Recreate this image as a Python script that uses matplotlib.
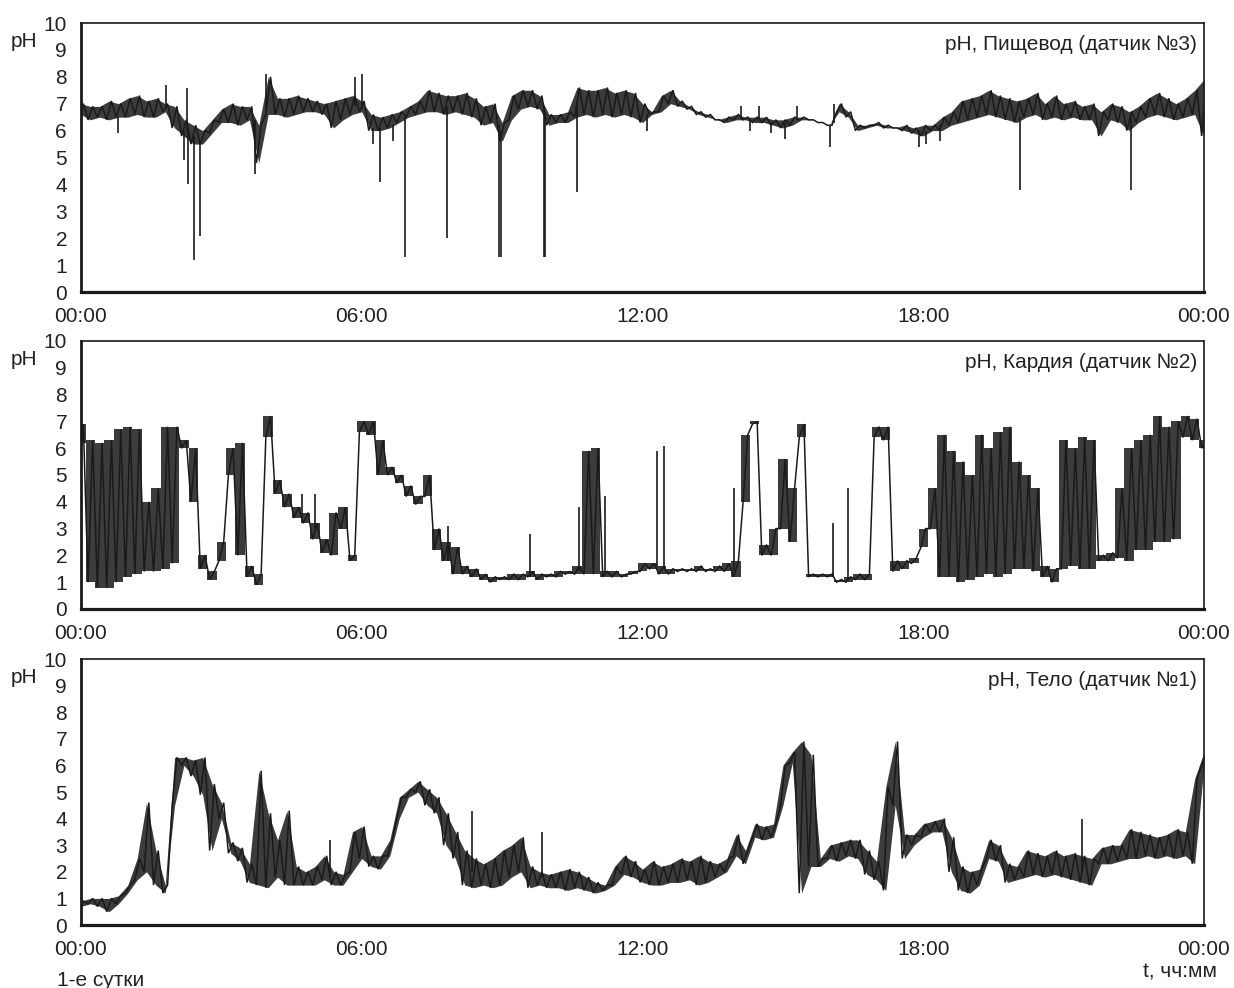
import numpy as np
import matplotlib
matplotlib.use("Agg")
import matplotlib.pyplot as plt

plt.rcParams['font.family'] = ['Liberation Sans', 'DejaVu Sans']

# time grid (hours), one sample every 12 minutes
hours = np.arange(121) * 0.2

# ---- Panel 1: pH, Пищевод (датчик №3) : low / high envelope per sample
eso_lo = [6.6, 6.4, 6.5, 6.4, 6.5, 6.5, 6.6, 6.5, 6.5, 6.7,
          6.1, 5.8, 5.5, 5.5, 5.9, 6.3, 6.3, 6.2, 6.4, 4.8,
          6.6, 6.6, 6.5, 6.6, 6.7, 6.7, 6.6, 6.1, 6.4, 6.6,
          6.7, 6.0, 6.0, 6.1, 6.3, 6.5, 6.6, 6.7, 6.7, 6.6,
          6.7, 6.6, 6.5, 6.2, 6.3, 5.6, 6.4, 6.8, 6.9, 6.8,
          6.2, 6.3, 6.3, 6.5, 6.6, 6.5, 6.6, 6.5, 6.6, 6.5,
          6.3, 6.6, 6.7, 7.0, 6.9, 6.8, 6.6, 6.5, 6.4, 6.3,
          6.4, 6.4, 6.3, 6.3, 6.2, 6.1, 6.2, 6.4, 6.4, 6.3,
          6.2, 6.7, 6.5, 6.0, 6.1, 6.2, 6.1, 6.1, 6.0, 5.9,
          5.8, 6.0, 6.0, 6.2, 6.3, 6.4, 6.5, 6.6, 6.5, 6.4,
          6.3, 6.5, 6.6, 6.4, 6.5, 6.4, 6.5, 6.4, 6.4, 5.8,
          6.4, 6.3, 6.0, 6.3, 6.5, 6.6, 6.5, 6.4, 6.5, 6.6,
          5.8]
eso_hi = [7.0, 6.9, 6.9, 7.1, 7.0, 7.2, 7.3, 7.1, 7.2, 7.0,
          6.9, 6.4, 6.2, 6.0, 6.4, 6.8, 7.0, 6.9, 6.9, 6.2,
          8.0, 7.2, 7.2, 7.3, 7.2, 7.1, 7.0, 7.1, 7.2, 7.3,
          7.1, 6.6, 6.5, 6.6, 6.7, 6.9, 7.1, 7.5, 7.4, 7.3,
          7.3, 7.4, 7.2, 6.9, 7.0, 6.3, 7.3, 7.5, 7.5, 7.3,
          6.6, 6.6, 6.7, 7.6, 7.5, 7.5, 7.6, 7.4, 7.5, 7.4,
          7.0, 6.7, 7.3, 7.5, 7.1, 6.9, 6.7, 6.6, 6.4, 6.5,
          6.6, 6.5, 6.5, 6.5, 6.4, 6.4, 6.5, 6.5, 6.4, 6.3,
          6.2, 7.0, 6.7, 6.2, 6.2, 6.3, 6.2, 6.1, 6.2, 6.1,
          6.2, 6.2, 6.5, 6.7, 7.1, 7.2, 7.3, 7.5, 7.3, 7.2,
          7.1, 7.2, 7.4, 7.0, 7.3, 7.0, 7.1, 6.9, 7.0, 6.7,
          7.0, 6.9, 6.7, 6.9, 7.2, 7.4, 7.2, 7.0, 7.2, 7.5,
          7.9]
# spikes: time (h), start pH, end pH
eso_spk_t = [0.8, 1.82, 2.2, 2.26, 2.28, 2.42, 2.55, 3.72, 3.95, 5.86, 6.0,
             6.23, 6.4, 6.67, 6.93, 7.83, 8.94, 8.97, 9.89, 9.92, 10.6,
             12.1, 14.1, 14.3, 14.5, 14.75, 15.05, 15.3, 16.0, 16.1,
             17.9, 18.05, 18.35, 20.07, 22.43]
eso_spk_a = [6.5, 6.8, 6.0, 6.0, 6.0, 5.8, 5.6, 6.4, 6.8, 6.9, 6.8,
             6.1, 6.1, 6.2, 6.5, 6.9, 6.2, 6.0, 6.9, 6.5, 6.9,
             6.6, 6.5, 6.4, 6.4, 6.3, 6.3, 6.4, 6.2, 6.3,
             6.0, 6.0, 6.2, 6.5, 6.5]
eso_spk_b = [5.9, 7.7, 4.9, 7.6, 4.0, 1.2, 2.1, 4.4, 8.1, 8.0, 8.1,
             5.5, 4.1, 5.6, 1.3, 2.0, 1.3, 1.3, 1.3, 1.3, 3.7,
             6.0, 6.9, 6.0, 6.9, 5.9, 5.7, 6.9, 5.4, 7.0,
             5.4, 5.5, 5.6, 3.8, 3.8]

# ---- Panel 2: pH, Кардия (датчик №2)
car_lo = [6.2, 1.0, 0.8, 0.8, 1.0, 1.2, 1.3, 1.4, 1.4, 1.5,
          1.7, 6.0, 4.0, 1.5, 1.1, 1.8, 5.0, 2.0, 1.2, 0.9,
          6.4, 4.3, 3.8, 3.4, 3.2, 2.6, 2.1, 2.0, 3.0, 1.8,
          6.6, 6.5, 5.0, 5.0, 4.7, 4.2, 3.9, 4.2, 2.2, 1.8,
          1.3, 1.3, 1.2, 1.1, 1.0, 1.1, 1.1, 1.1, 1.2, 1.1,
          1.2, 1.2, 1.3, 1.3, 1.3, 1.3, 1.2, 1.2, 1.2, 1.3,
          1.4, 1.5, 1.3, 1.3, 1.4, 1.4, 1.4, 1.4, 1.4, 1.4,
          1.2, 4.0, 6.9, 2.0, 2.0, 3.0, 2.5, 6.4, 1.2, 1.2,
          1.2, 1.0, 1.0, 1.1, 1.1, 6.4, 6.3, 1.4, 1.5, 1.7,
          2.3, 3.0, 1.2, 1.2, 1.0, 1.1, 1.2, 1.3, 1.2, 1.3,
          1.5, 1.5, 1.4, 1.2, 1.0, 1.5, 1.6, 1.5, 1.5, 1.8,
          1.8, 1.9, 1.8, 2.2, 2.2, 2.5, 2.5, 2.6, 6.4, 6.3,
          6.0]
car_hi = [6.9, 6.3, 6.2, 6.3, 6.7, 6.8, 6.7, 4.0, 4.5, 6.8,
          6.8, 6.3, 6.0, 2.0, 1.4, 2.5, 6.0, 6.2, 1.6, 1.3,
          7.2, 4.8, 4.3, 3.8, 3.6, 3.2, 2.6, 3.6, 3.8, 2.0,
          7.0, 7.0, 6.3, 5.3, 5.0, 4.6, 4.2, 5.0, 3.0, 2.5,
          2.3, 1.6, 1.5, 1.3, 1.2, 1.2, 1.3, 1.3, 1.4, 1.3,
          1.3, 1.4, 1.4, 1.6, 5.9, 6.0, 1.4, 1.4, 1.3, 1.4,
          1.7, 1.7, 1.6, 1.5, 1.5, 1.5, 1.6, 1.5, 1.6, 1.7,
          1.8, 6.5, 7.0, 2.4, 3.0, 5.6, 4.5, 6.9, 1.3, 1.3,
          1.3, 1.1, 1.2, 1.3, 1.3, 6.8, 6.8, 1.8, 1.8, 1.9,
          3.0, 4.5, 6.5, 5.9, 5.5, 5.0, 6.5, 6.0, 6.6, 6.8,
          5.5, 5.0, 4.5, 1.6, 1.5, 6.3, 6.0, 6.4, 6.3, 2.0,
          2.1, 4.5, 6.0, 6.3, 6.5, 7.2, 6.8, 7.0, 7.2, 7.1,
          6.3]
car_spk_t = [4.72, 5.0, 7.85, 9.6, 10.65, 11.2, 12.32, 12.47, 13.95, 16.07, 16.39]
car_spk_a = [3.4, 3.0, 1.8, 1.2, 1.4, 1.3, 1.6, 1.5, 1.4, 1.2, 1.1]
car_spk_b = [4.3, 4.3, 3.1, 2.8, 3.8, 4.2, 5.9, 6.1, 4.5, 3.2, 4.5]

# ---- Panel 3: pH, Тело (датчик №1)
body_lo = [0.7, 0.8, 0.7, 0.5, 0.8, 1.2, 1.7, 2.0, 1.5, 1.2,
           4.5, 6.0, 5.6, 4.9, 2.8, 4.0, 2.7, 2.4, 1.6, 1.5,
           1.4, 1.8, 1.5, 1.5, 1.5, 1.5, 1.7, 1.5, 1.5, 2.0,
           2.5, 2.2, 2.1, 2.6, 4.0, 4.8, 5.0, 4.5, 4.2, 3.0,
           2.5, 1.5, 1.4, 1.5, 1.4, 1.5, 1.8, 2.0, 1.4, 1.5,
           1.4, 1.4, 1.3, 1.4, 1.3, 1.2, 1.3, 1.5, 1.9, 1.8,
           1.6, 1.5, 1.5, 1.6, 1.6, 1.7, 1.5, 1.6, 1.8, 2.0,
           2.6, 2.3, 3.3, 3.2, 3.3, 4.5, 6.1, 1.2, 2.2, 2.2,
           2.5, 2.4, 2.6, 2.5, 1.9, 1.7, 1.3, 4.5, 2.5, 3.0,
           3.3, 3.5, 3.5, 2.0, 1.3, 1.2, 1.5, 2.5, 2.4, 1.6,
           1.7, 1.8, 1.9, 1.8, 1.9, 1.8, 1.7, 1.6, 1.5, 2.3,
           2.3, 2.4, 2.5, 2.5, 2.6, 2.5, 2.6, 2.5, 2.6, 2.3,
           6.0]
body_hi = [0.9, 1.0, 1.0, 1.0, 1.1, 1.5, 2.5, 4.6, 2.8, 1.5,
           6.3, 6.3, 6.2, 6.3, 5.3, 4.6, 3.1, 2.9, 2.3, 5.8,
           4.2, 3.2, 4.3, 2.2, 2.0, 2.2, 2.6, 2.0, 1.9, 3.5,
           3.7, 2.6, 2.6, 3.2, 4.8, 5.1, 5.4, 5.1, 4.8, 4.2,
           3.5, 2.8, 2.5, 2.3, 2.5, 2.8, 3.0, 3.3, 2.2, 2.0,
           1.9, 2.0, 2.1, 2.0, 1.8, 1.6, 1.5, 2.2, 2.6, 2.4,
           2.1, 2.4, 2.2, 2.3, 2.5, 2.4, 2.6, 2.4, 2.3, 2.5,
           3.4, 2.8, 3.8, 3.7, 3.8, 6.0, 6.5, 6.9, 6.4, 2.5,
           3.0, 3.1, 3.2, 3.2, 2.8, 2.4, 5.2, 6.9, 3.4, 3.4,
           3.8, 3.9, 4.0, 3.3, 2.2, 2.0, 2.1, 3.2, 3.0, 2.3,
           2.2, 2.8, 2.7, 2.6, 2.8, 2.6, 2.7, 2.6, 2.5, 2.9,
           3.0, 3.0, 3.6, 3.5, 3.4, 3.3, 3.4, 3.6, 3.5, 5.5,
           6.5]
body_spk_t = [5.32, 8.36, 9.85, 21.4]
body_spk_a = [1.8, 2.0, 1.8, 2.0]
body_spk_b = [3.2, 4.3, 3.5, 4.0]

titles = ["pH, Пищевод (датчик №3)", "pH, Кардия (датчик №2)", "pH, Тело (датчик №1)"]
x_ticks = [0, 6, 12, 18, 24]
x_labels = ["00:00", "06:00", "12:00", "18:00", "00:00"]
y_ticks = list(range(0, 11))

# the cardia trace switches abruptly, so its envelope is drawn as steps
series = [
    (eso_lo, eso_hi, eso_spk_t, eso_spk_a, eso_spk_b, None),
    (car_lo, car_hi, car_spk_t, car_spk_a, car_spk_b, "mid"),
    (body_lo, body_hi, body_spk_t, body_spk_a, body_spk_b, None),
]

W, H = 1234, 988
fig = plt.figure(figsize=(W / 100, H / 100), dpi=100)
fig.patch.set_facecolor("white")

panels_px = [(23, 292), (341, 609), (659, 925)]
left_px, right_px = 81, 1204
ink = "#1a1a1a"

for (top, bot), title, (lo, hi, st, sa, sb, step) in zip(panels_px, titles, series):
    ax = fig.add_axes([left_px / W, 1 - bot / H, (right_px - left_px) / W, (bot - top) / H])
    lo = np.asarray(lo)
    hi = np.asarray(hi)
    # dense noise envelope
    ax.fill_between(hours, lo, hi, step=step, color=ink, alpha=0.85, lw=0)
    # trace zig-zagging between the envelope values
    x = np.column_stack([hours - 0.05, hours + 0.05]).ravel()
    y = np.column_stack([lo, hi]).ravel()
    ax.plot(x, y, color=ink, lw=1.1, solid_joinstyle="miter")
    ax.vlines(st, sa, sb, color=ink, lw=1.2)

    ax.set_xlim(0, 24)
    ax.set_ylim(0, 10)
    ax.set_xticks(x_ticks)
    ax.set_xticklabels(x_labels)
    ax.set_yticks(y_ticks)
    ax.set_yticklabels([str(v) for v in y_ticks])
    ax.tick_params(axis="x", length=0, pad=11, labelsize=15, colors="#222222")
    ax.tick_params(axis="y", length=0, pad=10, labelsize=15, colors="#222222")
    ax.set_yticks(y_ticks, minor=True)
    ax.tick_params(axis="y", which="minor", right=True, left=False, direction="in",
                   length=4, width=1.0, color=ink)
    for side, lw in (("left", 2.0), ("bottom", 2.3), ("top", 1.2), ("right", 1.2)):
        ax.spines[side].set_linewidth(lw)
        ax.spines[side].set_color(ink)

    ax.text(-0.051, 0.93, "pH", transform=ax.transAxes, ha="center", va="center",
            fontsize=15, color="#222222")
    ax.text(0.9937, 0.92, title, transform=ax.transAxes, ha="right", va="center",
            fontsize=15, color="#222222")

fig.text(57 / W, 1 - 980 / H, "1-е сутки", ha="left", va="center", fontsize=15, color="#222222")
fig.text(1217 / W, 1 - 972 / H, "t, чч:мм", ha="right", va="center", fontsize=15, color="#222222")

fig.savefig("out.png", dpi=100, facecolor="white")
